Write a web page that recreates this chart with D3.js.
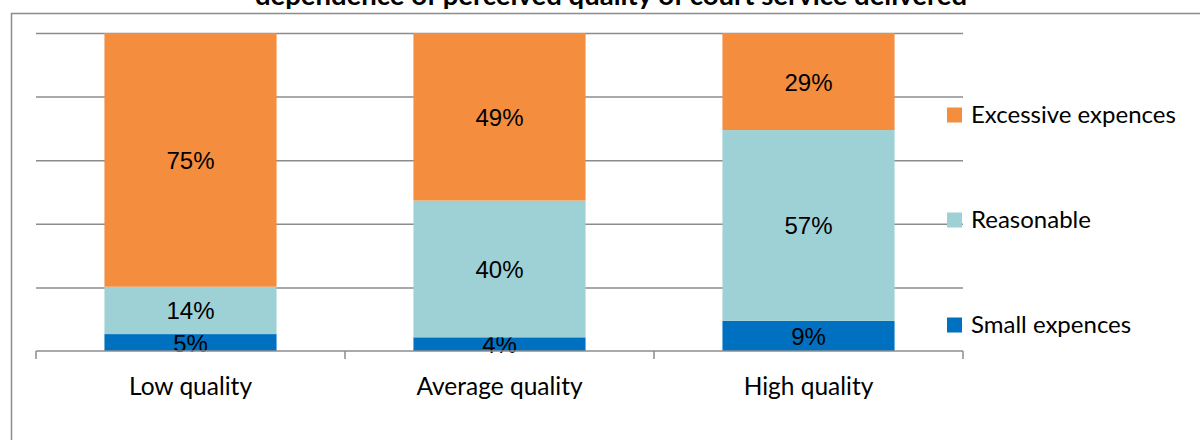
<!DOCTYPE html>
<html>
<head>
<meta charset="utf-8">
<script src="https://cdn.jsdelivr.net/npm/d3@7"></script>
<style>
body { margin: 0; background: #fff; }
svg { display: block; }
</style>
</head>
<body>
<svg id="chart" width="1200" height="440"></svg>
<script>
var categories = ["Low quality", "Average quality", "High quality"];
var seriesNames = ["Small expences", "Reasonable", "Excessive expences"];
var smallVals = [5, 4, 9];
var reasonableVals = [14, 40, 57];
var excessiveVals = [75, 49, 29];
var title = "dependence of perceived quality of court service delivered";

var colors = {"Small expences": "#0070c0", "Reasonable": "#9dd1d5", "Excessive expences": "#f58d3f"};
var gridColor = "#8c8c8c";
var labelFont = "Lato, 'Noto Sans', sans-serif";

var svg = d3.select("#chart");

// table for the stack
var rows = categories.map(function(c, i) {
	return {cat: c, "Small expences": smallVals[i], "Reasonable": reasonableVals[i], "Excessive expences": excessiveVals[i]};
});

var stack = d3.stack().keys(seriesNames).offset(d3.stackOffsetExpand);
var layers = stack(rows);

var plotLeft = 36, plotRight = 963, plotTop = 33, plotBottom = 351;

var x = d3.scaleBand().domain(categories).range([plotLeft, plotRight]).paddingInner(0.443).paddingOuter(0.2215);
var y = d3.scaleLinear().domain([0, 1]).range([plotBottom, plotTop]);

// outer border
svg.append("rect")
	.attr("x", 11.5).attr("y", 13.5)
	.attr("width", 1300).attr("height", 500)
	.attr("fill", "none")
	.attr("stroke", gridColor)
	.attr("stroke-width", 1.5);

// title
svg.append("text")
	.attr("x", 611).attr("y", 5)
	.attr("text-anchor", "middle")
	.attr("font-family", labelFont)
	.attr("font-weight", "bold")
	.attr("font-size", 27.5)
	.text(title);

// gridlines
svg.append("g")
	.attr("transform", "translate(" + plotLeft + ",0)")
	.call(d3.axisLeft(y).tickValues([0.2, 0.4, 0.6, 0.8, 1]).tickSize(-(plotRight - plotLeft)).tickFormat(""))
	.call(function(g) { g.select(".domain").remove(); })
	.selectAll("line")
	.attr("stroke", gridColor)
	.attr("stroke-width", 1.5);

// bars
var layer = svg.selectAll(".layer")
	.data(layers)
	.enter().append("g")
	.attr("class", "layer")
	.attr("fill", function(d) { return colors[d.key]; });

layer.selectAll("rect")
	.data(function(d) { return d; })
	.enter().append("rect")
	.attr("x", function(d) { return x(d.data.cat); })
	.attr("y", function(d) { return y(d[1]); })
	.attr("width", x.bandwidth())
	.attr("height", function(d) { return y(d[0]) - y(d[1]); });

// x axis
var xAxis = svg.append("g");
xAxis.append("line")
	.attr("x1", plotLeft).attr("x2", plotRight)
	.attr("y1", plotBottom).attr("y2", plotBottom)
	.attr("stroke", gridColor).attr("stroke-width", 1.5);

xAxis.selectAll(".tick")
	.data(d3.range(categories.length + 1))
	.enter().append("line")
	.attr("x1", function(i) { return plotLeft + i * x.step(); })
	.attr("x2", function(i) { return plotLeft + i * x.step(); })
	.attr("y1", plotBottom).attr("y2", plotBottom + 8)
	.attr("stroke", gridColor).attr("stroke-width", 1.5);

xAxis.selectAll(".cat")
	.data(categories)
	.enter().append("text")
	.attr("x", function(d) { return x(d) + x.bandwidth() / 2; })
	.attr("y", 395)
	.attr("text-anchor", "middle")
	.attr("font-family", labelFont)
	.attr("font-size", 24.5)
	.attr("fill", "#000")
	.text(function(d) { return d; });

// value labels
layer.each(function(L) {
	d3.select(this).selectAll("text")
		.data(L)
		.enter().append("text")
		.attr("x", function(d) { return x(d.data.cat) + x.bandwidth() / 2; })
		.attr("y", function(d) { return (y(d[0]) + y(d[1])) / 2 + 9; })
		.attr("text-anchor", "middle")
		.attr("font-family", "'Liberation Sans', Arial, sans-serif")
		.attr("font-size", 24)
		.attr("fill", "#000")
		.text(function(d) { return d.data[L.key] + "%"; });
});

// legend
var legendY = {"Excessive expences": 115, "Reasonable": 220, "Small expences": 325};
var legend = svg.selectAll(".legend")
	.data(seriesNames.slice().reverse())
	.enter().append("g")
	.attr("transform", function(d) { return "translate(947," + legendY[d] + ")"; });

legend.append("rect")
	.attr("x", 0).attr("y", -7.5)
	.attr("width", 15).attr("height", 15)
	.attr("fill", function(d) { return colors[d]; });

legend.append("text")
	.attr("x", 24).attr("y", 8)
	.attr("font-family", labelFont)
	.attr("font-size", 24)
	.attr("fill", "#000")
	.text(function(d) { return d; });
</script>
</body>
</html>
